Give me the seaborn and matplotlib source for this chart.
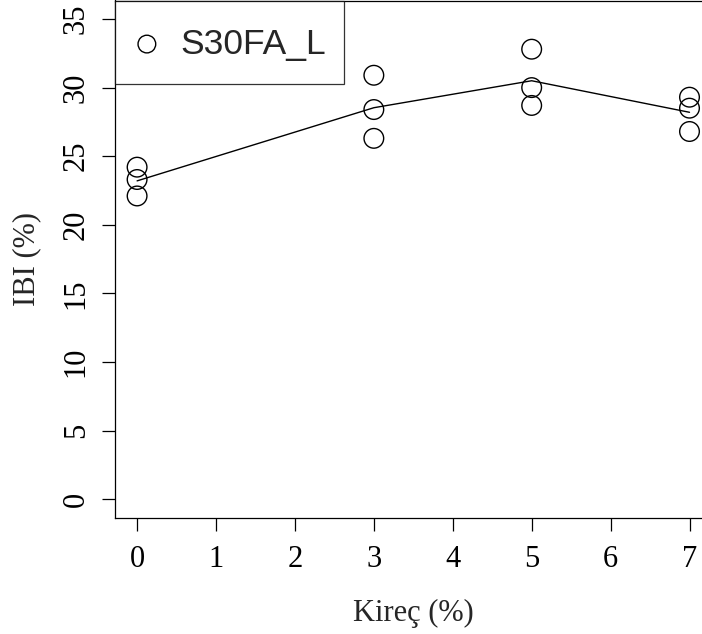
import matplotlib
matplotlib.use('Agg')
import matplotlib.pyplot as plt
import seaborn as sns
import pandas as pd

# Kireç (%) and IBI (%) readings, three per dosage
kirec = [0, 0, 0, 3, 3, 3, 5, 5, 5, 7, 7, 7]
ibi = [24.2, 23.3, 22.1, 30.9, 28.4, 26.3, 32.8, 30.0, 28.7, 29.3, 28.5, 26.8]
xticks = [0, 1, 2, 3, 4, 5, 6, 7]
yticks = [0, 5, 10, 15, 20, 25, 30, 35]
series_name = 'S30FA_L'

df = pd.DataFrame({'Kirec': kirec, 'IBI': ibi})

sns.set_style('white')
plt.rcParams['font.family'] = ['Liberation Serif', 'DejaVu Serif']

fig = plt.figure(figsize=(7.02, 6.34), dpi=100)
ax = fig.add_axes([115 / 702, 1 - 518.3 / 634, 596.6 / 702, 517.8 / 634])

sns.lineplot(data=df, x='Kirec', y='IBI', estimator='mean', errorbar=None,
             color='black', lw=1.0, legend=False, ax=ax)
sns.scatterplot(data=df, x='Kirec', y='IBI', marker='o', s=200,
                fc='none', ec='black', linewidth=1.0, label=series_name, ax=ax)

ax.set_xlim(-0.28, 7.28)
ax.set_ylim(-1.4, 36.35)
ax.set_xticks(xticks)
ax.set_yticks(yticks)
ax.set_yticklabels([str(v) for v in yticks], rotation=90, va='center')
ax.tick_params(axis='both', direction='out', length=9.5, width=0.9,
               bottom=True, left=True, color='black',
               labelsize=22, labelcolor='black')
ax.tick_params(axis='x', pad=10)
ax.tick_params(axis='y', pad=8)
for sp in ax.spines.values():
    sp.set_visible(True)
    sp.set_color('black')
    sp.set_linewidth(0.9)

ax.set_xlabel('Kireç (%)', fontsize=22, labelpad=18)
ax.set_ylabel('IBI (%)', fontsize=22, labelpad=15)

leg = ax.legend(loc='upper left', bbox_to_anchor=(0, 1), borderaxespad=0,
                frameon=True, fancybox=False, edgecolor='black',
                prop={'family': 'Liberation Sans', 'size': 25.5},
                borderpad=0.5, handletextpad=0.54, handlelength=0.8,
                handleheight=1.7, markerscale=0.9, scatteryoffsets=[0.2])
leg.get_frame().set_linewidth(0.9)

fig.savefig('out.png', dpi=100)
